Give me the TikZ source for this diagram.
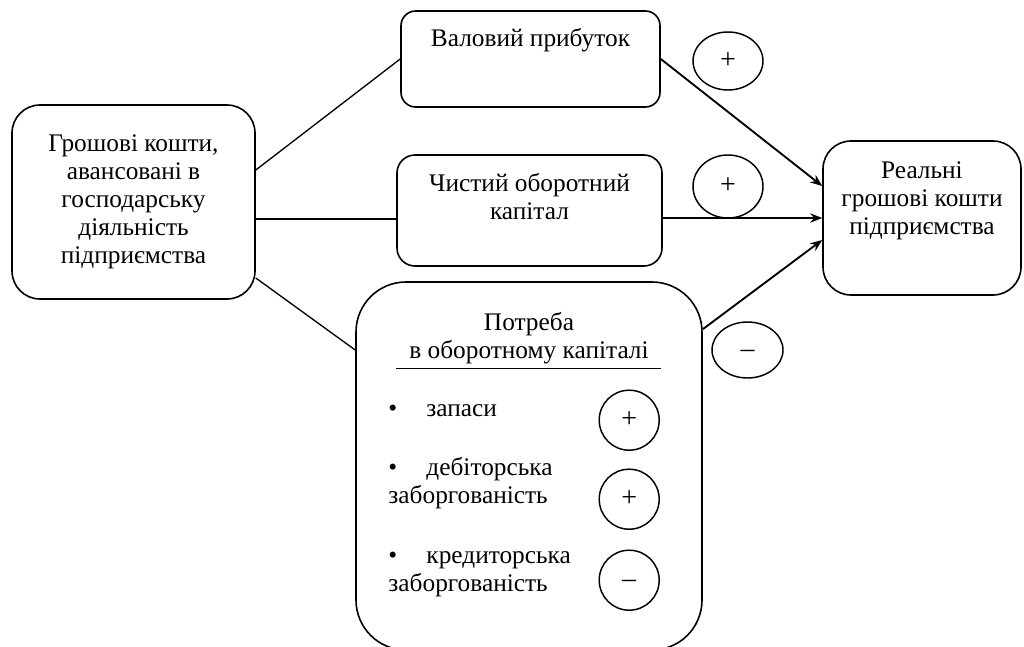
\documentclass[tikz,border=0pt]{standalone}
\usepackage{fontspec}
\setmainfont{Liberation Serif}
\usetikzlibrary{shapes.geometric,arrows.meta,positioning,calc}

\begin{document}
\begin{tikzpicture}[
        x=0.75pt, y=-0.75pt,
        box/.style={rectangle, draw, line width=1.2pt},
        txt/.style={font=\fontsize{19}{21}\selectfont, align=center, inner sep=0pt},
        item/.style={font=\fontsize{19}{21}\selectfont, align=left, inner sep=0pt, anchor=base west},
        sign/.style={ellipse, draw, line width=1.1pt, inner sep=0pt, text height=10.5pt, text depth=0pt,
            font=\fontsize{21}{22}\selectfont},
        link/.style={line width=1pt},
        >={Stealth[length=9pt, width=7pt, inset=3pt]}
    ]
    \useasboundingbox (0,0) rectangle (1024,646);

    % boxes
    \node[box, txt, minimum width=182.25pt, minimum height=145.5pt, rounded corners=21pt] (cash) at (133.5,202)
        {Грошові кошти,\\авансовані в\\господарську\\діяльність\\підприємства};
    \node[box, minimum width=194.25pt, minimum height=72pt, rounded corners=11pt] (gross) at (530.5,59) {};
    \node[txt, anchor=base] (grosslabel) at ($(gross.north)+(0,36)$) {Валовий прибуток};
    \node[box, minimum width=198.75pt, minimum height=83.25pt, rounded corners=13.5pt] (net) at (529.5,210.5) {};
    \node[txt, anchor=base] (netlabel) at ($(net.north)+(0,65)$) {Чистий оборотний\\капітал};
    \node[box, minimum width=148.5pt, minimum height=115.5pt, rounded corners=21pt] (real) at (922,218) {};
    \node[txt, anchor=base] (reallabel) at ($(real.north)+(0,94)$) {Реальні\\грошові кошти\\підприємства};

    % need for working capital
    \node[box, minimum width=259.5pt, minimum height=276pt, rounded corners=37.5pt] (need) at (529,466) {};
    \node[txt, anchor=base] (needlabel) at ($(need.north)+(0,77)$) {Потреба\\в оборотному капіталі};
    \draw[link] ($(need.north west)+(41,87)$) -- ($(need.north east)+(-42,87)$);
    \node[item] (stock) at ($(need.north west)+(33,135)$) {\makebox[28.5pt][l]{\textbullet}запаси};
    \node[item] (debit) at ($(need.north west)+(33,222)$) {\makebox[28.5pt][l]{\textbullet}дебіторська\\заборгованість};
    \node[item] (credit) at ($(need.north west)+(33,310)$) {\makebox[28.5pt][l]{\textbullet}кредиторська\\заборгованість};
    \node[sign, minimum width=45pt, minimum height=45pt] (stocksign) at ($(need.north west)+(274,139)$) {+};
    \node[sign, minimum width=45pt, minimum height=45pt] (debitsign) at ($(need.north west)+(274,218)$) {+};
    \node[sign, minimum width=45pt, minimum height=45pt] (creditsign) at ($(need.north west)+(274,299)$) {–};

    % signs on the arrows
    \node[sign, minimum width=52.5pt, minimum height=43.5pt] (grosssign) at (728,61) {+};
    \node[sign, minimum width=52.5pt, minimum height=47.25pt] (netsign) at (728,186.5) {+};
    \node[sign, minimum width=53.25pt, minimum height=42pt] (needsign) at (747.5,350) {–};

    % connectors
    \draw[link] ($(cash.east)+(0,-32)$) -- (gross.west);
    \draw[link] ($(cash.east)+(0,17)$) -- ($(net.west)+(0,8.5)$);
    \draw[link] ($(cash.east)+(0,76)$) -- ($(need.west)+(0,-116)$);
    \draw[link, line width=1.4pt, ->] (gross.east) -- ($(real.west)+(0,-32)$);
    \draw[link, line width=1.4pt, ->] ($(net.east)+(0,7.5)$) -- (real.west);
    \draw[link, line width=1.4pt, ->] ($(need.north east)+(0,48)$) -- ($(real.west)+(0,22)$);
\end{tikzpicture}
\end{document}
